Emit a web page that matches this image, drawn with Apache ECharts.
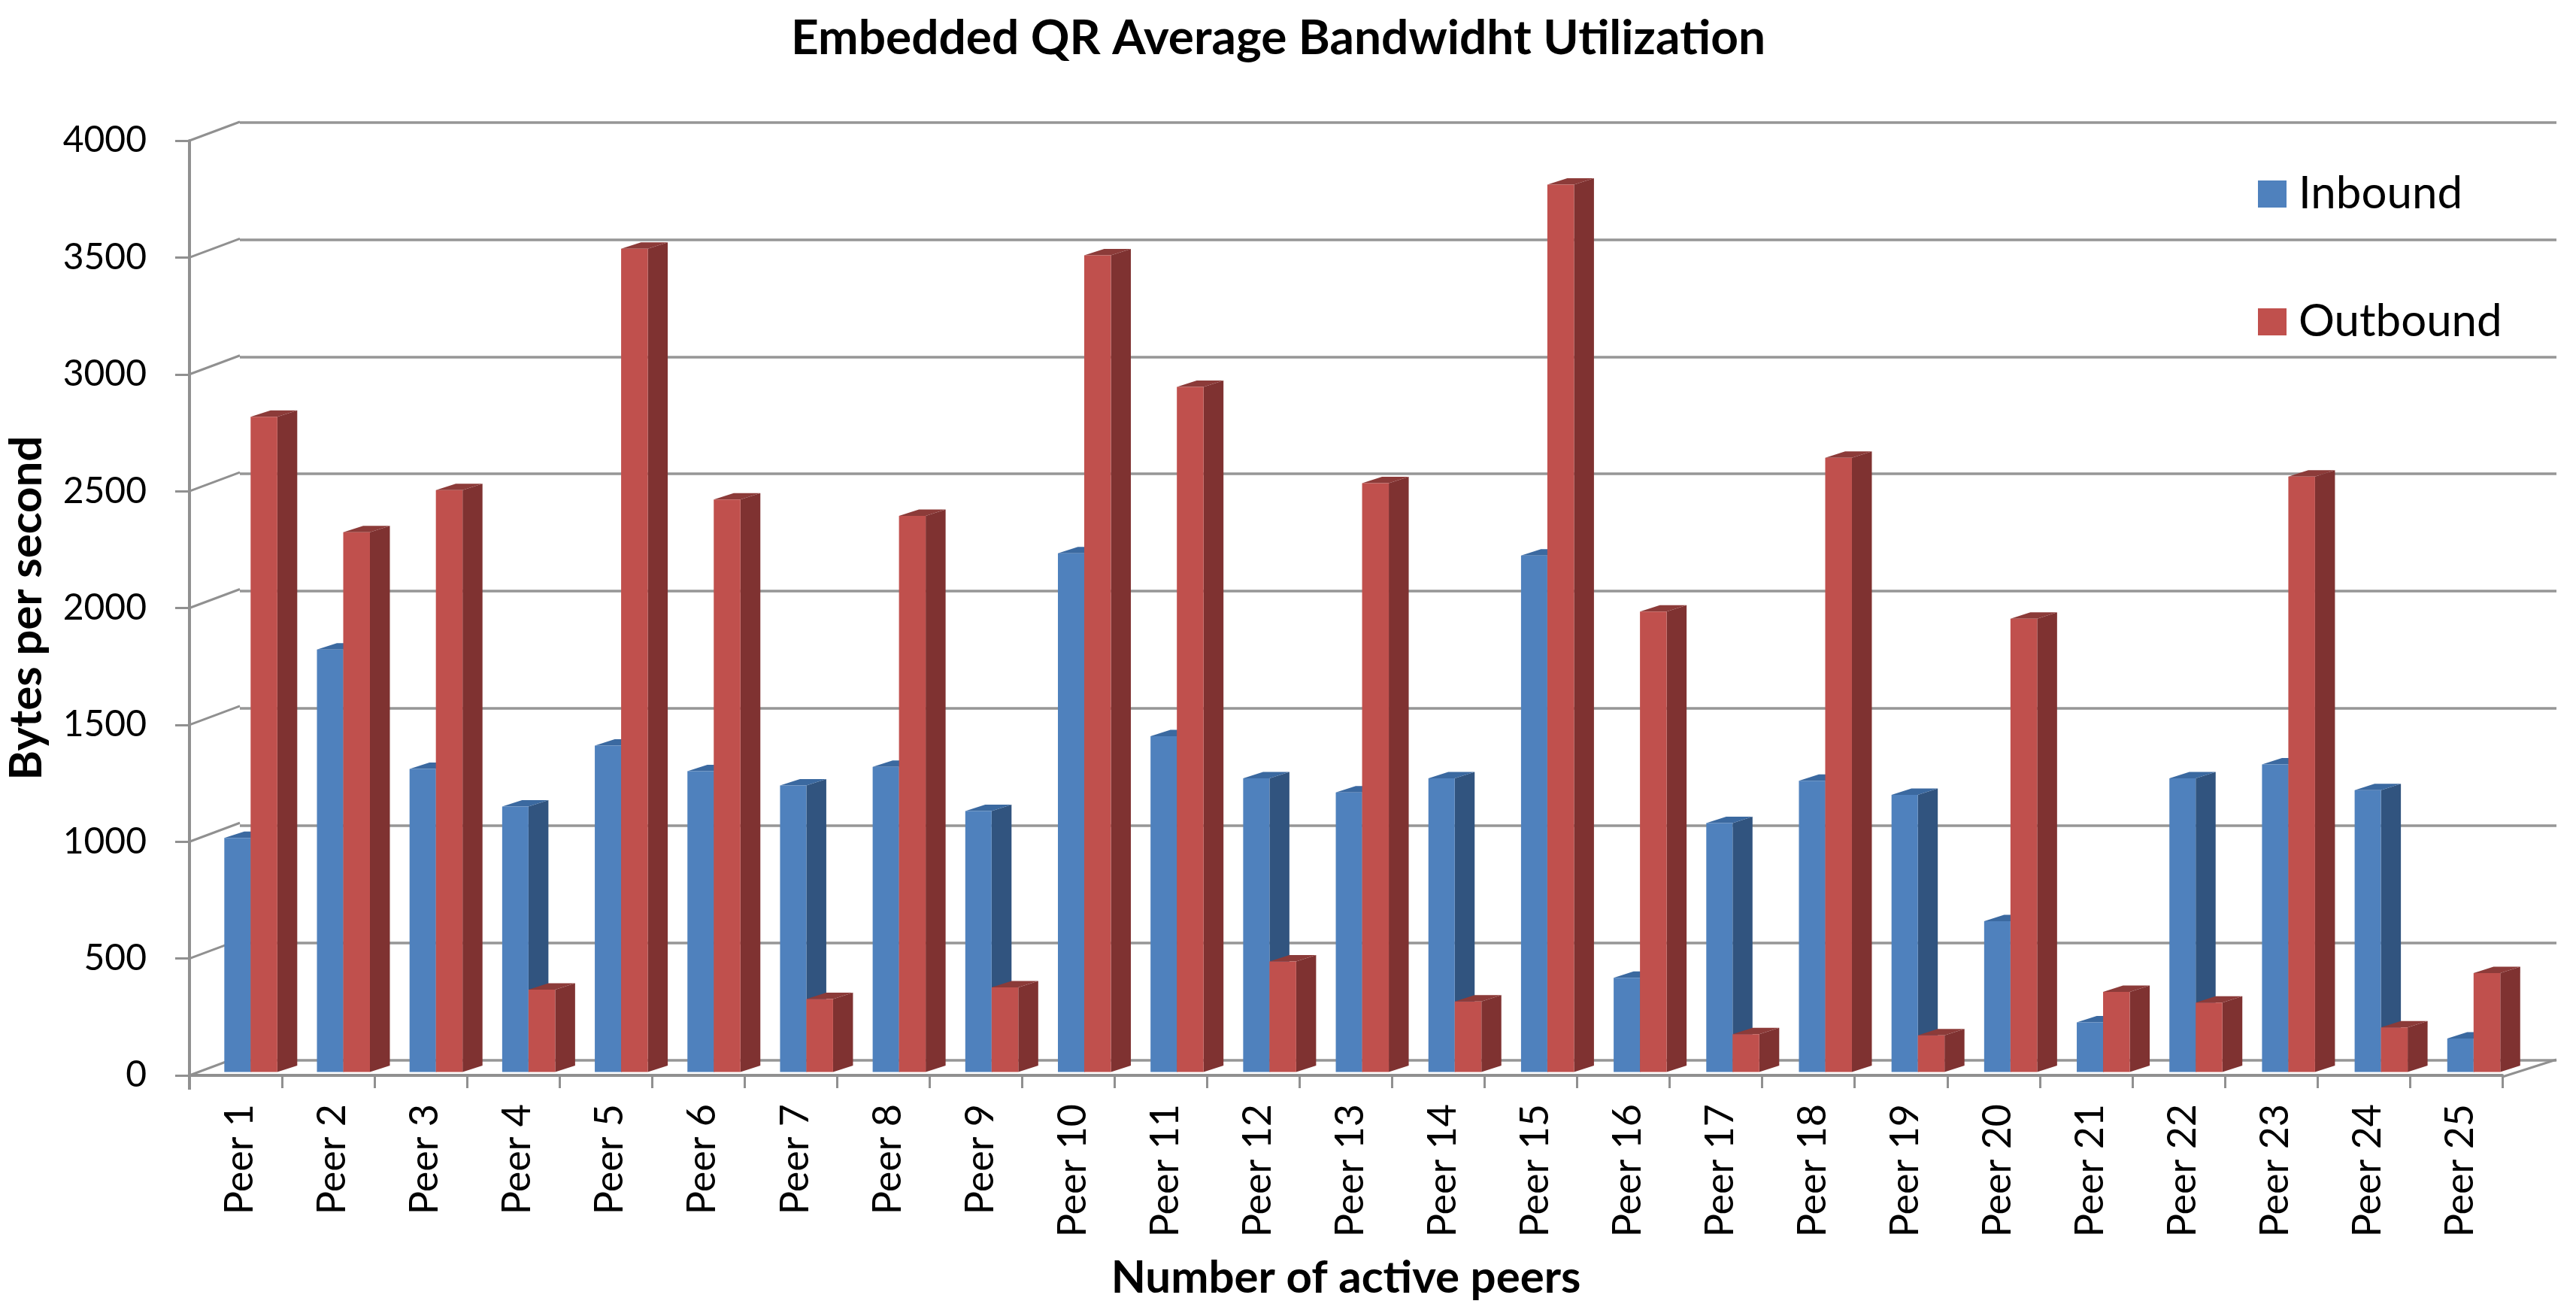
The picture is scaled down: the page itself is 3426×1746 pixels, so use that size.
<!DOCTYPE html>
<html><head><meta charset="utf-8">
<style>html,body{margin:0;padding:0;background:#fff}#c{width:3426px;height:1746px}</style>
<script src="https://cdn.jsdelivr.net/npm/echarts@6/dist/echarts.min.js"></script>
</head><body><div id="c"></div>
<script>
const categories = ['Peer 1','Peer 2','Peer 3','Peer 4','Peer 5','Peer 6','Peer 7','Peer 8','Peer 9','Peer 10','Peer 11','Peer 12','Peer 13','Peer 14','Peer 15','Peer 16','Peer 17','Peer 18','Peer 19','Peer 20','Peer 21','Peer 22','Peer 23','Peer 24','Peer 25'];
const inbound  = [1002,1808,1297,1136,1397,1287,1226,1306,1117,2220,1437,1257,1196,1257,2210,403,1065,1246,1186,645,212,1257,1316,1206,143];
const outbound = [2804,2310,2490,352,3523,2450,312,2380,362,3495,2932,473,2520,302,3797,1970,162,2628,157,1940,343,297,2548,191,423];
const yTicks = [0,500,1000,1500,2000,2500,3000,3500,4000];

const FONT = 'Lato';
const AXIS = '#909090';
const DEPTH_X = 26.5, DEPTH_Y = 8.5, BASE_UP = 4.5;

function barRenderer(offset, width, front, side, top) {
  return function (params, api) {
    const i = api.value(0);
    const c = api.coord([i, api.value(1)]);
    const z = api.coord([i, 0]);
    const x0 = c[0] + offset + 0.146 * i, x1 = x0 + width;
    const yT = c[1] - BASE_UP, yB = z[1] - BASE_UP;
    return { type: 'group', children: [
      { type: 'polygon', shape: { points: [[x1,yT],[x1+DEPTH_X,yT-DEPTH_Y],[x1+DEPTH_X,yB-DEPTH_Y],[x1,yB]] }, style: { fill: side } },
      { type: 'polygon', shape: { points: [[x0,yT],[x1,yT],[x1+DEPTH_X,yT-DEPTH_Y],[x0+DEPTH_X,yT-DEPTH_Y]] }, style: { fill: top } },
      { type: 'rect', shape: { x: x0, y: yT, width: width, height: yB - yT }, style: { fill: front } }
    ]};
  };
}

const chart = echarts.init(document.getElementById('c'), null, { renderer: 'canvas' });
chart.setOption({
  animation: false,
  backgroundColor: '#fff',
  title: {
    text: 'Embedded QR Average Bandwidht Utilization',
    left: 1695, top: 14, textAlign: 'center',
    textStyle: { fontFamily: FONT, fontSize: 64, fontWeight: 'bold', color: '#000' }
  },
  legend: {
    orient: 'vertical', left: 2998, top: 223, itemWidth: 38, itemHeight: 36, itemGap: 110,
    icon: 'rect',
    data: ['Inbound', 'Outbound'],
    textStyle: { fontFamily: FONT, fontSize: 60, color: '#000', padding: [0,0,0,11] }
  },
  grid: [
    { left: 252, top: 187, width: 3076, height: 1243, outerBoundsMode: 'none' },
    { left: 319, top: 162.5, width: 3081, height: 1247, outerBoundsMode: 'none' }
  ],
  xAxis: [
    { type: 'category', gridIndex: 0, data: categories, offset: 2,
      axisLine: { lineStyle: { color: AXIS, width: 4 } },
      axisTick: { show: true, length: 17, lineStyle: { color: AXIS, width: 3 } },
      axisLabel: { interval: 0, rotate: 90, margin: 36, fontFamily: FONT, fontSize: 52, color: '#000', verticalAlign: 'top', lineHeight: 12 },
      name: 'Number of active peers', nameLocation: 'middle', nameGap: 238,
      nameTextStyle: { fontFamily: FONT, fontSize: 60, fontWeight: 'bold', color: '#000' }
    },
    { type: 'category', gridIndex: 1, data: categories, show: false }
  ],
  yAxis: [
    { type: 'value', gridIndex: 0, min: 0, max: 4000, interval: 500,
      axisLine: { show: true, lineStyle: { color: AXIS, width: 4 } },
      axisTick: { show: true, length: 19, lineStyle: { color: AXIS, width: 3 } },
      splitLine: { show: false },
      axisLabel: { margin: 57, fontFamily: FONT, fontSize: 48, color: '#000', formatter: v => String(v) },
      name: 'Bytes per second', nameLocation: 'middle', nameGap: 186,
      nameTextStyle: { fontFamily: FONT, fontSize: 60, fontWeight: 'bold', color: '#000' }
    },
    { type: 'value', gridIndex: 1, min: 0, max: 4000, interval: 500,
      axisLine: { show: false }, axisTick: { show: false }, axisLabel: { show: false },
      splitLine: { show: true, lineStyle: { color: '#969696', width: 3.5 } }
    }
  ],
  series: [
    { type: 'custom', name: 'frame', xAxisIndex: 0, yAxisIndex: 0, z: 1, silent: true,
      clip: false,
      data: yTicks.map(v => [0, v]),
      encode: { x: 0, y: 1 },
      renderItem: function (params, api) {
        const v = api.value(1);
        const p = api.coord([0, v]);
        const x = p[0] - 61.5;
        const children = [{ type: 'line', shape: { x1: x, y1: p[1], x2: x + 67, y2: p[1] - 25 }, style: { stroke: AXIS, lineWidth: 3 } }];
        if (v === 0) {
          children.push({ type: 'line', shape: { x1: x + 3076, y1: p[1] + 2, x2: x + 3148, y2: p[1] - 21 }, style: { stroke: AXIS, lineWidth: 3 } });
          children.push({ type: 'line', shape: { x1: x, y1: p[1], x2: x, y2: p[1] + 19 }, style: { stroke: AXIS, lineWidth: 4 } });
        }
        return { type: 'group', children };
      }
    },
    { type: 'custom', name: 'Inbound', xAxisIndex: 0, yAxisIndex: 0, z: 3, clip: false,
      itemStyle: { color: '#4F81BD' },
      data: inbound.map((v, i) => [i, v]), encode: { x: 0, y: 1 },
      renderItem: barRenderer(-15.2, 35, '#4F81BD', '#31547F', '#3B69A0') },
    { type: 'custom', name: 'Outbound', xAxisIndex: 0, yAxisIndex: 0, z: 4, clip: false,
      itemStyle: { color: '#C0504D' },
      data: outbound.map((v, i) => [i, v]), encode: { x: 0, y: 1 },
      renderItem: barRenderer(19.8, 35.5, '#C0504D', '#7F3231', '#8C3B39') }
  ]
});
</script></body></html>
